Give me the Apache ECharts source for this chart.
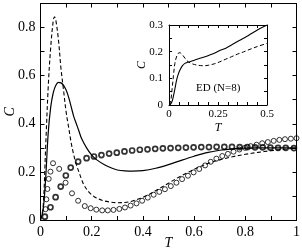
<!DOCTYPE html>
<html>
<head>
<meta charset="utf-8">
<script src="https://cdn.jsdelivr.net/npm/echarts@6/dist/echarts.min.js"></script>
<style>
html,body{margin:0;padding:0;background:#fff;}
#c{width:302px;height:252px;}
</style>
</head>
<body>
<div id="c"></div>
<script>
// ---- Main panel data ----
const T_SOLID = [0, 0.01, 0.02, 0.03, 0.04, 0.05, 0.06, 0.07, 0.08, 0.09, 0.10, 0.11, 0.12, 0.13, 0.14, 0.15, 0.16, 0.18, 0.20, 0.22, 0.25, 0.28, 0.30, 0.33, 0.36, 0.40, 0.45, 0.50, 0.55, 0.60, 0.65, 0.70, 0.75, 0.80, 0.85, 0.90, 0.95, 1.0];
const C_SOLID = [0, 0.04, 0.17, 0.36, 0.47, 0.53, 0.56, 0.572, 0.57, 0.56, 0.54, 0.51, 0.47, 0.43, 0.40, 0.37, 0.34, 0.30, 0.27, 0.25, 0.23, 0.215, 0.208, 0.204, 0.203, 0.205, 0.215, 0.23, 0.248, 0.265, 0.28, 0.29, 0.296, 0.299, 0.30, 0.30, 0.30, 0.30];

const T_DASH = [0, 0.01, 0.02, 0.03, 0.04, 0.05, 0.055, 0.06, 0.07, 0.08, 0.09, 0.10, 0.11, 0.12, 0.13, 0.14, 0.15, 0.16, 0.17, 0.19, 0.21, 0.24, 0.27, 0.30, 0.33, 0.36, 0.39, 0.42, 0.46, 0.50, 0.54, 0.58, 0.62, 0.66, 0.70, 0.75, 0.80, 0.85, 0.90, 0.95, 1.0];
const C_DASH = [0, 0.05, 0.30, 0.55, 0.72, 0.83, 0.845, 0.83, 0.75, 0.63, 0.54, 0.45, 0.385, 0.32, 0.27, 0.23, 0.20, 0.17, 0.145, 0.115, 0.097, 0.082, 0.075, 0.072, 0.073, 0.079, 0.09, 0.104, 0.128, 0.153, 0.178, 0.20, 0.22, 0.237, 0.25, 0.263, 0.273, 0.281, 0.288, 0.294, 0.299];

const T_BOLD = [0.017, 0.039, 0.059, 0.079, 0.099, 0.118, 0.147, 0.180, 0.209, 0.238, 0.268, 0.298, 0.328, 0.358, 0.388, 0.418, 0.448, 0.478, 0.508, 0.538, 0.568, 0.598, 0.628, 0.658, 0.688, 0.718, 0.748, 0.778, 0.808, 0.838, 0.868, 0.898, 0.928, 0.958, 0.99];
const C_BOLD = [0.014, 0.053, 0.095, 0.139, 0.185, 0.218, 0.243, 0.257, 0.264, 0.270, 0.276, 0.280, 0.285, 0.289, 0.292, 0.294, 0.296, 0.298, 0.299, 0.300, 0.301, 0.302, 0.303, 0.303, 0.304, 0.304, 0.304, 0.303, 0.303, 0.302, 0.302, 0.301, 0.300, 0.300, 0.299];

const T_THIN = [0.0195, 0.023, 0.027, 0.032, 0.039, 0.049, 0.073, 0.098, 0.123, 0.147, 0.173, 0.196, 0.218, 0.241, 0.263, 0.285, 0.308, 0.330, 0.352, 0.375, 0.397, 0.419, 0.442, 0.464, 0.486, 0.509, 0.531, 0.553, 0.576, 0.598, 0.620, 0.643, 0.665, 0.687, 0.710, 0.732, 0.754, 0.777, 0.799, 0.821, 0.844, 0.866, 0.888, 0.911, 0.933, 0.955, 0.978, 1.000];
const C_THIN = [0.045, 0.086, 0.129, 0.171, 0.201, 0.236, 0.2125, 0.155, 0.111, 0.080, 0.058, 0.049, 0.043, 0.040, 0.040, 0.042, 0.046, 0.052, 0.060, 0.069, 0.080, 0.093, 0.105, 0.117, 0.128, 0.141, 0.155, 0.170, 0.184, 0.198, 0.212, 0.227, 0.242, 0.255, 0.266, 0.275, 0.284, 0.293, 0.300, 0.307, 0.313, 0.319, 0.324, 0.329, 0.333, 0.336, 0.338, 0.340];

// ---- Inset (ED, N=8) data ----
const T_IN_SOLID = [0.005, 0.015, 0.022, 0.03, 0.039, 0.047, 0.056, 0.068, 0.081, 0.095, 0.107, 0.13, 0.158, 0.18, 0.208, 0.234, 0.259, 0.29, 0.319, 0.35, 0.38, 0.403, 0.43, 0.46, 0.5];
const C_IN_SOLID = [0, 0.012, 0.031, 0.06, 0.094, 0.115, 0.131, 0.147, 0.156, 0.16, 0.162, 0.168, 0.175, 0.18, 0.1875, 0.195, 0.204, 0.213, 0.225, 0.238, 0.25, 0.26, 0.272, 0.285, 0.30];

const T_IN_DASH = [0.005, 0.01, 0.017, 0.024, 0.03, 0.038, 0.047, 0.056, 0.065, 0.073, 0.085, 0.098, 0.12, 0.141, 0.16, 0.175, 0.2, 0.234, 0.259, 0.29, 0.319, 0.35, 0.38, 0.403, 0.45, 0.5];
const C_IN_DASH = [0, 0.02, 0.069, 0.12, 0.156, 0.18, 0.194, 0.196, 0.191, 0.184, 0.172, 0.162, 0.154, 0.150, 0.148, 0.147, 0.149, 0.155, 0.162, 0.172, 0.181, 0.191, 0.199, 0.206, 0.219, 0.231];

const INSET_TEXT = 'ED (N=8)';
const X_NAME = 'T';
const Y_NAME = 'C';

function zip(a, b) { return a.map((v, i) => [v, b[i]]); }

const FONT = 'Liberation Serif';
const BLACK = '#000';

function fmtMainX(v) {
  const k = Math.round(v * 10);
  if (k % 2 !== 0) return '';
  if (k === 0) return '0';
  if (k === 10) return '1';
  return (k / 10).toFixed(1);
}
function fmtMainY(v) {
  const k = Math.round(v * 10);
  if (k % 2 !== 0) return '';
  if (k === 0) return '0';
  return (k / 10).toFixed(1);
}
function fmtInX(v) {
  const k = Math.round(v * 20);
  if (k === 0) return '0';
  if (k === 5) return '0.25';
  if (k === 10) return '0.5';
  return '';
}
function fmtInY(v) {
  const k = Math.round(v * 20);
  if (k % 2 !== 0) return '';
  if (k === 0) return '0';
  return (k / 20).toFixed(1);
}

function axisBase(gridIndex, min, max, interval, tickLen) {
  return {
    gridIndex, type: 'value', min, max, interval,
    nameMoveOverlap: false,
    axisLine: { show: true, onZero: false, lineStyle: { color: BLACK, width: 1 } },
    axisTick: { show: true, inside: true, length: tickLen, lineStyle: { color: BLACK, width: 1 } },
    splitLine: { show: false },
  };
}

const chart = echarts.init(document.getElementById('c'), null, { renderer: 'canvas' });
chart.setOption({
  animation: false,
  backgroundColor: '#fff',
  grid: [
    { left: 40.5, right: 5.5, top: 3.5, bottom: 32, outerBoundsMode: 'none', containLabel: false },
    { left: 169, top: 25, width: 98, height: 80, show: true, backgroundColor: '#fff', borderWidth: 0, z: 5, outerBoundsMode: 'none', containLabel: false }
  ],
  xAxis: [
    Object.assign(axisBase(0, 0, 1, 0.1, 4), {
      position: 'bottom',
      axisLabel: { formatter: fmtMainX, fontFamily: FONT, fontSize: 14, color: BLACK, margin: 5 },
      name: X_NAME, nameLocation: 'middle', nameGap: 16,
      nameTextStyle: { fontFamily: FONT, fontStyle: 'italic', fontSize: 14, color: BLACK }
    }),
    Object.assign(axisBase(0, 0, 1, 0.1, 4), { position: 'top', axisLabel: { show: false } }),
    Object.assign(axisBase(1, 0, 0.5, 0.05, 3), {
      position: 'bottom', z: 6,
      axisLabel: { formatter: fmtInX, fontFamily: FONT, fontSize: 11, color: BLACK, margin: 4, showMaxLabel: true },
      name: X_NAME, nameLocation: 'middle', nameGap: 17,
      nameTextStyle: { fontFamily: FONT, fontStyle: 'italic', fontSize: 12, color: BLACK }
    }),
    Object.assign(axisBase(1, 0, 0.5, 0.05, 3), { position: 'top', z: 6, axisLabel: { show: false } })
  ],
  yAxis: [
    Object.assign(axisBase(0, 0, 0.9, 0.1, 4), {
      position: 'left',
      axisLabel: { formatter: fmtMainY, fontFamily: FONT, fontSize: 14, color: BLACK, margin: 5 },
      name: Y_NAME, nameLocation: 'middle', nameGap: 23, nameRotate: 90,
      nameTextStyle: { fontFamily: FONT, fontStyle: 'italic', fontSize: 14, color: BLACK }
    }),
    Object.assign(axisBase(0, 0, 0.9, 0.1, 4), { position: 'right', axisLabel: { show: false } }),
    Object.assign(axisBase(1, 0, 0.3, 0.05, 3), {
      position: 'left', z: 6,
      axisLabel: { formatter: fmtInY, fontFamily: FONT, fontSize: 11, color: BLACK, margin: 6 },
      name: Y_NAME, nameLocation: 'middle', nameGap: 21, nameRotate: 90,
      nameTextStyle: { fontFamily: FONT, fontStyle: 'italic', fontSize: 12, color: BLACK }
    }),
    Object.assign(axisBase(1, 0, 0.3, 0.05, 3), { position: 'right', z: 6, axisLabel: { show: false } })
  ],
  graphic: [
    { type: 'text', left: 196, top: 83, z: 100,
      style: { text: INSET_TEXT, font: '11px "Liberation Serif"', fill: BLACK } }
  ],
  series: [
    { type: 'line', xAxisIndex: 0, yAxisIndex: 0, data: zip(T_SOLID, C_SOLID), showSymbol: false, smooth: 0.35,
      lineStyle: { color: BLACK, width: 1.2 }, clip: true },
    { type: 'line', xAxisIndex: 0, yAxisIndex: 0, data: zip(T_DASH, C_DASH), showSymbol: false, smooth: 0.35,
      lineStyle: { color: BLACK, width: 1.1, type: [4, 2.5] }, clip: true },
    { type: 'scatter', xAxisIndex: 0, yAxisIndex: 0, data: zip(T_BOLD, C_BOLD), symbol: 'circle', symbolSize: 5,
      itemStyle: { color: 'rgba(0,0,0,0)', borderColor: BLACK, borderWidth: 1.7 } },
    { type: 'scatter', xAxisIndex: 0, yAxisIndex: 0, data: zip(T_THIN, C_THIN), symbol: 'circle', symbolSize: 5,
      itemStyle: { color: 'rgba(0,0,0,0)', borderColor: BLACK, borderWidth: 1 } },
    { type: 'line', xAxisIndex: 2, yAxisIndex: 2, data: zip(T_IN_SOLID, C_IN_SOLID), showSymbol: false, smooth: 0.35, z: 10,
      lineStyle: { color: BLACK, width: 1.1 }, clip: true },
    { type: 'line', xAxisIndex: 2, yAxisIndex: 2, data: zip(T_IN_DASH, C_IN_DASH), showSymbol: false, smooth: 0.35, z: 10,
      lineStyle: { color: BLACK, width: 1, type: [4, 2.5] }, clip: true }
  ]
});
</script>
</body>
</html>
